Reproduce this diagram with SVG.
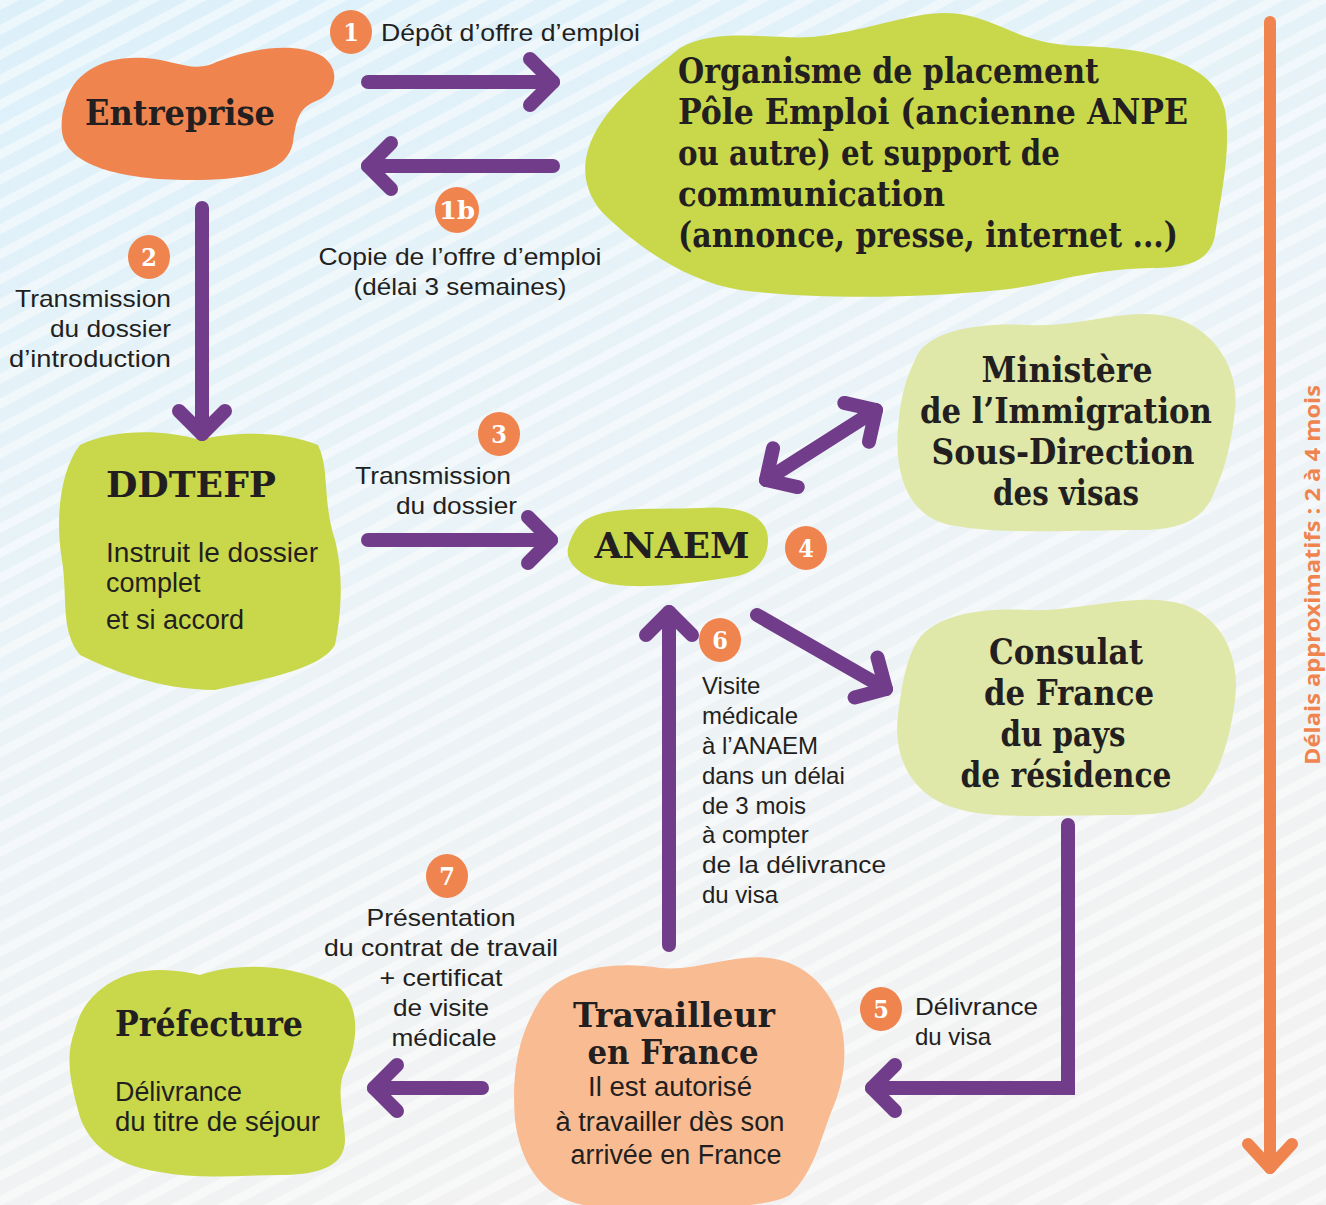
<svg xmlns="http://www.w3.org/2000/svg" width="1326" height="1205" viewBox="0 0 1326 1205">
<defs>
<linearGradient id="bg" x1="0" y1="0" x2="0.35" y2="1">
<stop offset="0" stop-color="#dcf0fa"/>
<stop offset="0.5" stop-color="#eaf3f7"/>
<stop offset="1" stop-color="#f2f2f2"/>
</linearGradient>
<pattern id="stripes" width="22" height="22" patternUnits="userSpaceOnUse" patternTransform="rotate(-28)">
<rect x="0" y="0" width="22" height="9" fill="#ffffff" fill-opacity="0.45"/>
</pattern>
<marker id="hp" markerUnits="userSpaceOnUse" orient="auto-start-reverse" markerWidth="60" markerHeight="60" refX="0" refY="0" viewBox="-40 -30 60 60" overflow="visible">
<path d="M-23,-23 L0,0 L-23,23" fill="none" stroke="#713c8a" stroke-width="14" stroke-linecap="round" stroke-linejoin="round"/>
</marker>
<marker id="ho" markerUnits="userSpaceOnUse" orient="auto" markerWidth="60" markerHeight="60" refX="0" refY="0" viewBox="-40 -30 60 60" overflow="visible">
<path d="M-24,-22 L0,0 L-24,22" fill="none" stroke="#f0844f" stroke-width="12" stroke-linecap="round" stroke-linejoin="round"/>
</marker>
</defs>
<style>
.t{font-family:"DejaVu Serif Condensed","DejaVu Serif",serif;font-weight:bold;fill:#231f20;font-size:36px}
.tw{font-size:33px}
.s{font-family:"Liberation Sans",Arial,sans-serif;fill:#231f20;font-size:24px}
.b{font-family:"Liberation Sans",Arial,sans-serif;fill:#231f20;font-size:27px}
.n{font-family:"DejaVu Serif Condensed","DejaVu Serif",serif;font-weight:bold;fill:#ffffff;font-size:25px;text-anchor:middle}
.badge{fill:#f0844f}
.c{stroke:#713c8a;stroke-width:14;fill:none;stroke-linecap:round;stroke-linejoin:miter}
.green{fill:#c8d84a}
.lgreen{fill:#dfe8a8}
.orange{fill:#f0844f}
.salmon{fill:#f9bb92}
.m{text-anchor:middle}
.e{text-anchor:end}
</style>
<rect width="1326" height="1205" fill="url(#bg)"/>
<rect width="1326" height="1205" fill="url(#stripes)"/>

<g id="entreprise">
<path class="orange" d="M65,105 C72,72 105,55 145,58 C175,60 190,72 212,64 C245,50 292,40 322,56 C342,70 336,94 316,101 C298,108 296,122 293,142 C288,172 250,180 190,180 C120,180 66,165 62,132 C61,122 62,112 65,105 Z"/>
<text class="t" x="180" y="125" text-anchor="middle" textLength="190" lengthAdjust="spacingAndGlyphs">Entreprise</text>
</g>

<g id="organisme">
<path class="green" d="M588,150 C600,110 640,80 680,48 C720,25 780,42 820,36 C880,28 920,8 960,14 C1000,20 1020,44 1080,46 C1150,48 1215,62 1225,110 C1232,150 1220,200 1215,235 C1210,265 1180,268 1150,268 C1080,270 1050,285 1000,290 C920,298 820,300 740,290 C680,280 630,240 602,212 C585,192 582,170 588,150 Z"/>
<text class="t" x="678" y="83" textLength="421" lengthAdjust="spacingAndGlyphs">Organisme de placement</text>
<text class="t" x="678" y="124" textLength="510" lengthAdjust="spacingAndGlyphs">Pôle Emploi (ancienne ANPE</text>
<text class="t" x="678" y="165" textLength="382" lengthAdjust="spacingAndGlyphs">ou autre) et support de</text>
<text class="t" x="678" y="206" textLength="267" lengthAdjust="spacingAndGlyphs">communication</text>
<text class="t" x="678" y="247" textLength="500" lengthAdjust="spacingAndGlyphs">(annonce, presse, internet ...)</text>
</g>

<g id="ddtefp">
<path class="green" d="M80,445 C110,430 160,428 200,440 C230,432 280,430 318,445 C330,470 322,500 335,540 C345,580 340,620 335,645 C320,670 260,680 215,690 C160,690 110,670 80,655 C60,630 68,600 62,560 C55,520 60,470 80,445 Z"/>
<text class="t" x="106" y="497" textLength="170" lengthAdjust="spacingAndGlyphs">DDTEFP</text>
<text class="b" x="106" y="562" textLength="212" lengthAdjust="spacingAndGlyphs">Instruit le dossier</text>
<text class="b" x="106" y="592">complet</text>
<text class="b" x="106" y="629">et si accord</text>
</g>

<g id="anaem">
<path class="green" d="M585,520 C610,505 660,510 700,508 C740,505 768,515 768,540 C768,560 755,572 738,576 C700,582 650,590 610,584 C580,578 565,562 568,548 C571,536 577,526 585,520 Z"/>
<text class="t" x="672" y="558" text-anchor="middle" textLength="155" lengthAdjust="spacingAndGlyphs">ANAEM</text>
</g>

<g id="ministere">
<path class="lgreen" d="M915,360 C925,330 980,322 1030,325 C1080,328 1130,305 1175,318 C1215,330 1240,370 1235,410 C1232,440 1225,470 1215,490 C1205,520 1180,530 1140,530 C1080,530 1000,535 950,525 C905,515 895,470 898,430 C900,400 905,380 915,360 Z"/>
<text class="t m" x="1067" y="382" textLength="171" lengthAdjust="spacingAndGlyphs">Ministère</text>
<text class="t m" x="1066" y="423" textLength="292" lengthAdjust="spacingAndGlyphs">de l’Immigration</text>
<text class="t m" x="1063" y="464" textLength="263" lengthAdjust="spacingAndGlyphs">Sous-Direction</text>
<text class="t m" x="1066" y="505" textLength="146" lengthAdjust="spacingAndGlyphs">des visas</text>
</g>

<g id="consulat">
<path class="lgreen" d="M915,645 C930,615 980,607 1030,610 C1080,612 1140,590 1185,605 C1225,620 1240,660 1235,700 C1230,740 1220,770 1205,790 C1190,812 1160,815 1120,815 C1060,815 990,820 955,808 C910,795 893,755 898,715 C902,685 905,665 915,645 Z"/>
<text class="t m" x="1066" y="664" textLength="154" lengthAdjust="spacingAndGlyphs">Consulat</text>
<text class="t m" x="1069" y="705" textLength="170" lengthAdjust="spacingAndGlyphs">de France</text>
<text class="t m" x="1063" y="746" textLength="125" lengthAdjust="spacingAndGlyphs">du pays</text>
<text class="t m" x="1066" y="787" textLength="211" lengthAdjust="spacingAndGlyphs">de résidence</text>
</g>

<g id="travailleur">
<path class="salmon" d="M540,1000 C560,970 610,960 660,968 C700,972 740,950 780,960 C810,968 830,990 840,1020 C848,1050 845,1080 832,1110 C820,1140 815,1170 790,1195 C760,1212 650,1210 590,1206 C540,1200 520,1160 515,1120 C512,1080 515,1040 540,1000 Z"/>
<text class="t tw m" x="674" y="1027" textLength="202" lengthAdjust="spacingAndGlyphs">Travailleur</text>
<text class="t tw m" x="673" y="1064" textLength="171" lengthAdjust="spacingAndGlyphs">en France</text>
<text class="b m" x="670" y="1096" textLength="164" lengthAdjust="spacingAndGlyphs">Il est autorisé</text>
<text class="b m" x="670" y="1131" textLength="229" lengthAdjust="spacingAndGlyphs">à travailler dès son</text>
<text class="b m" x="676" y="1164" textLength="211" lengthAdjust="spacingAndGlyphs">arrivée en France</text>
</g>

<g id="prefecture">
<path class="green" d="M100,990 C130,965 170,968 200,975 C230,965 280,960 335,985 C360,1000 360,1040 345,1070 C335,1090 345,1120 345,1140 C345,1170 310,1175 280,1175 C240,1175 200,1180 160,1172 C110,1165 85,1140 78,1110 C70,1080 65,1055 75,1030 C80,1010 90,998 100,990 Z"/>
<text class="t" x="115" y="1036" textLength="188" lengthAdjust="spacingAndGlyphs">Préfecture</text>
<text class="b" x="115" y="1101" textLength="127" lengthAdjust="spacingAndGlyphs">Délivrance</text>
<text class="b" x="115" y="1131" textLength="205" lengthAdjust="spacingAndGlyphs">du titre de séjour</text>
</g>

<g id="connectors">
<path class="c" d="M368,82 H553" marker-end="url(#hp)"/>
<path class="c" d="M553,166 H368" marker-end="url(#hp)"/>
<path class="c" d="M202,208 V434" marker-end="url(#hp)"/>
<path class="c" d="M368,540 H551" marker-end="url(#hp)"/>
<path class="c" d="M766,480 L876,410" marker-start="url(#hp)" marker-end="url(#hp)"/>
<path class="c" d="M757,615 L886,689" marker-end="url(#hp)"/>
<path class="c" d="M669,945 V612" marker-end="url(#hp)"/>
<path class="c" d="M1068,825 V1088 H872" stroke-linecap="butt" marker-end="url(#hp)"/>
<path class="c" d="M482,1088 H374" marker-end="url(#hp)"/>
<path d="M1270,22 V1168" stroke="#f0844f" stroke-width="12" stroke-linecap="round" fill="none" marker-end="url(#ho)"/>
</g>

<g id="labels">
<ellipse class="badge" cx="351" cy="32" rx="21" ry="22"/>
<text class="n" x="351" y="41">1</text>
<text class="s" x="381" y="41" textLength="259" lengthAdjust="spacingAndGlyphs">Dépôt d’offre d’emploi</text>

<ellipse class="badge" cx="457" cy="210" rx="22" ry="23"/>
<text class="n" x="457" y="219" textLength="36" lengthAdjust="spacingAndGlyphs">1b</text>
<text class="s m" x="460" y="265" textLength="283" lengthAdjust="spacingAndGlyphs">Copie de l’offre d’emploi</text>
<text class="s m" x="460" y="295" textLength="213" lengthAdjust="spacingAndGlyphs">(délai 3 semaines)</text>

<ellipse class="badge" cx="149" cy="257" rx="21" ry="22"/>
<text class="n" x="149" y="266">2</text>
<text class="s e" x="171" y="307" textLength="156" lengthAdjust="spacingAndGlyphs">Transmission</text>
<text class="s e" x="171" y="337" textLength="121" lengthAdjust="spacingAndGlyphs">du dossier</text>
<text class="s e" x="171" y="367" textLength="162" lengthAdjust="spacingAndGlyphs">d’introduction</text>

<ellipse class="badge" cx="499" cy="434" rx="21" ry="22"/>
<text class="n" x="499" y="443">3</text>
<text class="s" x="355" y="484" textLength="156" lengthAdjust="spacingAndGlyphs">Transmission</text>
<text class="s e" x="517" y="514" textLength="121" lengthAdjust="spacingAndGlyphs">du dossier</text>

<ellipse class="badge" cx="806" cy="548" rx="21" ry="22"/>
<text class="n" x="806" y="557">4</text>

<ellipse class="badge" cx="720" cy="640" rx="21" ry="22"/>
<text class="n" x="720" y="649">6</text>
<text class="s" x="702" y="694">Visite</text>
<text class="s" x="702" y="724">médicale</text>
<text class="s" x="702" y="754">à l’ANAEM</text>
<text class="s" x="702" y="784">dans un délai</text>
<text class="s" x="702" y="814">de 3 mois</text>
<text class="s" x="702" y="843">à compter</text>
<text class="s" x="702" y="873" textLength="184" lengthAdjust="spacingAndGlyphs">de la délivrance</text>
<text class="s" x="702" y="903">du visa</text>

<ellipse class="badge" cx="881" cy="1009" rx="21" ry="22"/>
<text class="n" x="881" y="1018">5</text>
<text class="s" x="915" y="1015" textLength="123" lengthAdjust="spacingAndGlyphs">Délivrance</text>
<text class="s" x="915" y="1045">du visa</text>

<ellipse class="badge" cx="447" cy="876" rx="21" ry="22"/>
<text class="n" x="447" y="885">7</text>
<text class="s m" x="441" y="926" textLength="149" lengthAdjust="spacingAndGlyphs">Présentation</text>
<text class="s m" x="441" y="956" textLength="234" lengthAdjust="spacingAndGlyphs">du contrat de travail</text>
<text class="s m" x="441" y="986" textLength="123" lengthAdjust="spacingAndGlyphs">+ certificat</text>
<text class="s m" x="441" y="1016" textLength="96" lengthAdjust="spacingAndGlyphs">de visite</text>
<text class="s m" x="444" y="1046" textLength="105" lengthAdjust="spacingAndGlyphs">médicale</text>

<text x="0" y="0" transform="translate(1320,575) rotate(-90)" text-anchor="middle" font-family="'Open Sans','DejaVu Sans',sans-serif" font-weight="bold" font-size="22" fill="#f0844f" textLength="380" lengthAdjust="spacingAndGlyphs">Délais approximatifs : 2 à 4 mois</text>
</g>
</svg>
